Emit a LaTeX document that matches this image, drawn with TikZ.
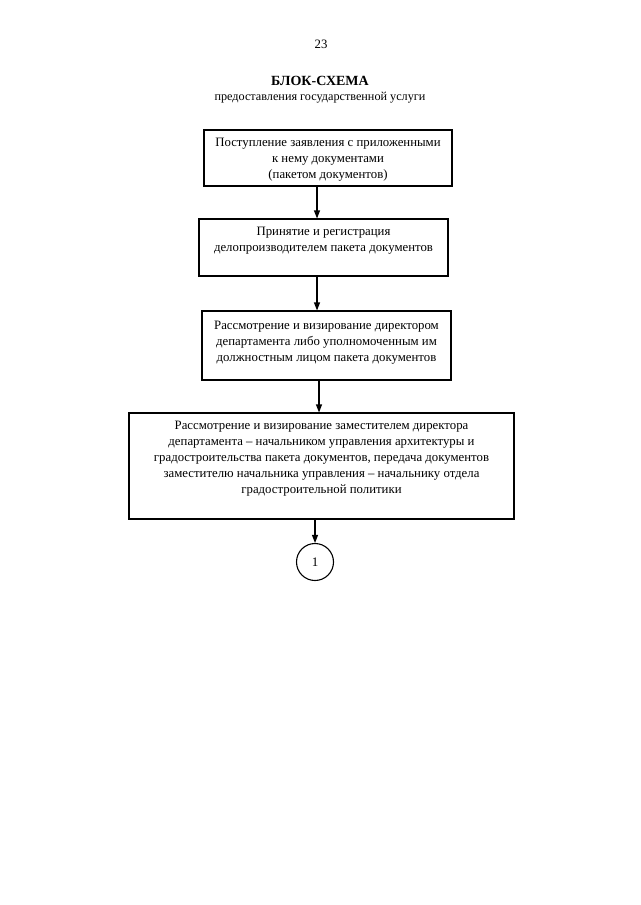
\documentclass[tikz,border=0pt]{standalone}
\usepackage{fontspec}
\setmainfont{Liberation Serif}
\usetikzlibrary{arrows.meta}
\begin{document}
\begin{tikzpicture}[x=1pt,y=-1pt,
  box/.style={draw, line width=1.1pt, inner sep=0pt},
  txt/.style={anchor=north, align=center, inner sep=0pt, font=\fontsize{12.8}{16.2}\selectfont},
  arr/.style={line width=1.1pt, -{Triangle[length=8pt,width=6pt]}}]
\useasboundingbox (0,0) rectangle (640,905);
\node[font=\fontsize{12.8}{15}\selectfont] (pg) at (321,44) {23};
\node[font=\bfseries\fontsize{14}{15}\selectfont] (title) at (320,81) {БЛОК-СХЕМА};
\node[font=\fontsize{12.2}{15}\selectfont] (sub) at (320,98) {предоставления государственной услуги};
% boxes
\node[box, minimum width=248pt, minimum height=56pt] (b1) at (328,158) {};
\node[box, minimum width=249pt, minimum height=57pt] (b2) at (323.5,247.5) {};
\node[box, minimum width=249pt, minimum height=69pt] (b3) at (326.5,345.5) {};
\node[box, minimum width=385pt, minimum height=106pt] (b4) at (321.5,466) {};
\node[draw, circle, line width=1.1pt, minimum size=37pt, inner sep=0pt, font=\fontsize{13}{15}\selectfont] (c1) at (315,562) {1};
% texts
\node[txt] (t1) at ([yshift=-8pt]b1.north) {Поступление заявления с приложенными\\к нему документами\\(пакетом документов)};
\node[txt] (t2) at ([yshift=-8pt]b2.north) {Принятие и регистрация\\делопроизводителем пакета документов};
\node[txt] (t3) at ([yshift=-10pt]b3.north) {Рассмотрение и визирование директором\\департамента либо уполномоченным им\\должностным лицом пакета документов};
\node[txt] (t4) at ([yshift=-8pt]b4.north) {Рассмотрение и визирование заместителем директора\\департамента -- начальником управления архитектуры и\\градостроительства пакета документов, передача документов\\заместителю начальника управления -- начальнику отдела\\градостроительной политики};
% connectors
\coordinate (x1) at (317,0);
\coordinate (x3) at (319,0);
\coordinate (x4) at (315,0);
\draw[arr] (b1.south -| x1) -- (b2.north -| x1);
\draw[arr] (b2.south -| x1) -- (b3.north -| x1);
\draw[arr] (b3.south -| x3) -- (b4.north -| x3);
\draw[arr] (b4.south -| x4) -- (c1.north);
\end{tikzpicture}
\end{document}
